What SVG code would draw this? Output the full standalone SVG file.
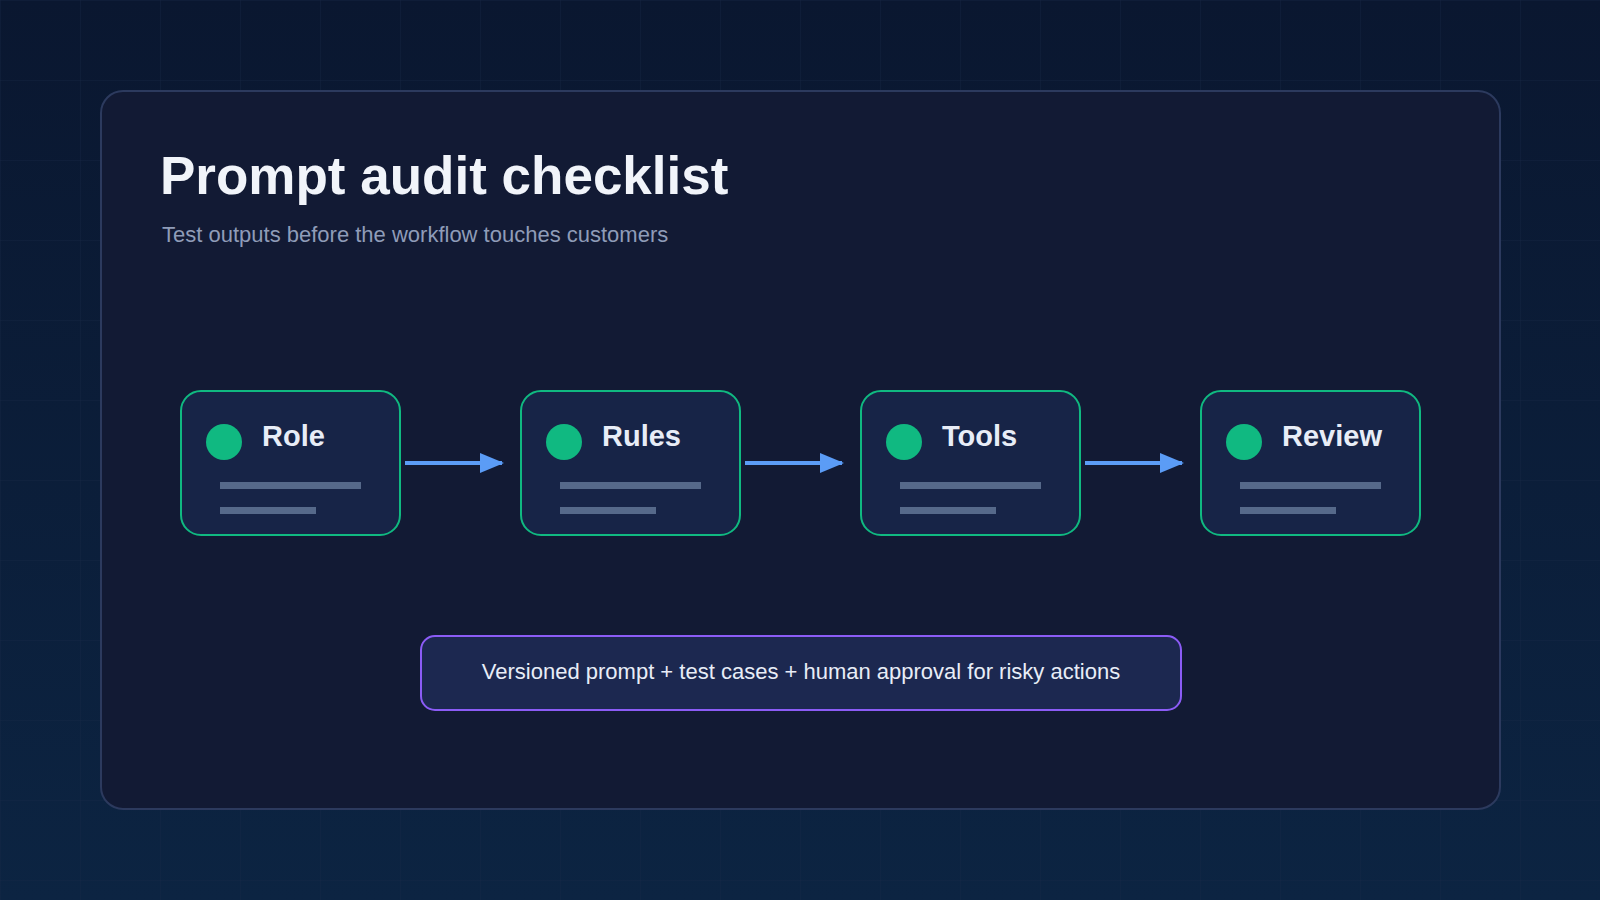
<svg xmlns="http://www.w3.org/2000/svg" width="1600" height="900" viewBox="0 0 1600 900">
<defs>
<linearGradient id="bg" x1="0" y1="0" x2="0" y2="1"><stop offset="0" stop-color="#0a1730"/><stop offset="1" stop-color="#0c2442"/></linearGradient>
<pattern id="grid" width="80" height="80" patternUnits="userSpaceOnUse"><path d="M80 0H0V80" fill="none" stroke="#1a2a48" stroke-width="1" opacity="0.6"/></pattern>
<marker id="ah" markerWidth="24" markerHeight="20" refX="22" refY="10" orient="auto" markerUnits="userSpaceOnUse"><path d="M0 0L24 10L0 20Z" fill="#5b9cf6"/></marker>
<style>
.node{fill:#172447;stroke:#10b981;stroke-width:2}
.dot{fill:#10b981}
.lbl{font-family:"Liberation Sans",Arial,sans-serif;font-weight:bold;font-size:29px;fill:#e8edf7}
.bar{fill:#56698a}
.conn{stroke:#5b9cf6;stroke-width:4;fill:none}
</style>
</defs>
<rect width="1600" height="900" fill="url(#bg)"/>
<rect width="1600" height="900" fill="url(#grid)"/>
<rect x="101" y="91" width="1399" height="718" rx="22" fill="#121a34" stroke="#2c3a5e" stroke-width="2"/>
<text x="160" y="194" font-family="Liberation Sans,Arial,sans-serif" font-weight="bold" font-size="53" fill="#f1f4fa">Prompt audit checklist</text>
<text x="162" y="242" font-family="Liberation Sans,Arial,sans-serif" font-size="22" fill="#8f9cb8">Test outputs before the workflow touches customers</text>
<g id="connectors">
<line class="conn" x1="405" y1="463" x2="502" y2="463" marker-end="url(#ah)"/>
<line class="conn" x1="745" y1="463" x2="842" y2="463" marker-end="url(#ah)"/>
<line class="conn" x1="1085" y1="463" x2="1182" y2="463" marker-end="url(#ah)"/>
</g>
<g id="node-role"><rect class="node" x="181" y="391" width="219" height="144" rx="20"/><circle class="dot" cx="224" cy="442" r="18"/><text class="lbl" x="262" y="446">Role</text><rect class="bar" x="220" y="482" width="141" height="7"/><rect class="bar" x="220" y="507" width="96" height="7"/></g>
<g id="node-rules"><rect class="node" x="521" y="391" width="219" height="144" rx="20"/><circle class="dot" cx="564" cy="442" r="18"/><text class="lbl" x="602" y="446">Rules</text><rect class="bar" x="560" y="482" width="141" height="7"/><rect class="bar" x="560" y="507" width="96" height="7"/></g>
<g id="node-tools"><rect class="node" x="861" y="391" width="219" height="144" rx="20"/><circle class="dot" cx="904" cy="442" r="18"/><text class="lbl" x="942" y="446">Tools</text><rect class="bar" x="900" y="482" width="141" height="7"/><rect class="bar" x="900" y="507" width="96" height="7"/></g>
<g id="node-review"><rect class="node" x="1201" y="391" width="219" height="144" rx="20"/><circle class="dot" cx="1244" cy="442" r="18"/><text class="lbl" x="1282" y="446">Review</text><rect class="bar" x="1240" y="482" width="141" height="7"/><rect class="bar" x="1240" y="507" width="96" height="7"/></g>
<g id="note"><rect x="421" y="636" width="760" height="74" rx="14" fill="#1c2850" stroke="#8b5cf6" stroke-width="2"/><text x="801" y="679" text-anchor="middle" font-family="Liberation Sans,Arial,sans-serif" font-size="22" fill="#e8edf7">Versioned prompt + test cases + human approval for risky actions</text></g>
</svg>
